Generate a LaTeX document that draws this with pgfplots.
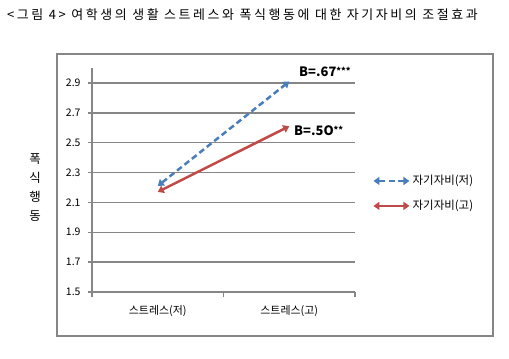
\documentclass[border=0pt]{standalone}
\usepackage{fontspec}
\setmainfont{Noto Sans CJK KR}
\newfontfamily\titlefont[LetterSpace=20]{Noto Sans CJK KR}
\usepackage{pgfplots}
\pgfplotsset{compat=1.18}
\usetikzlibrary{arrows.meta}
\definecolor{gridgray}{RGB}{134,134,134}
\definecolor{sblue}{RGB}{74,126,187}
\definecolor{sred}{RGB}{190,75,72}
\begin{document}
\begin{tikzpicture}[x=1bp,y=1bp]
\useasboundingbox (0,0) rectangle (509,358);
\draw[gridgray, line width=1.5bp] (57,22) rectangle (493,304);
\node[anchor=west, font=\titlefont\fontsize{13}{15}\selectfont, inner sep=0] at (7,343) {<그림 4> 여학생의 생활 스트레스와 폭식행동에 대한 자기자비의 조절효과};
\node[align=center, font=\fontsize{12.5}{19}\selectfont, inner sep=0] at (35,170.5) {폭\\식\\행\\동};
\begin{axis}[
  at={(92bp,66bp)}, anchor=south west, scale only axis,
  width=263bp, height=224bp,
  xmin=0.5, xmax=2.5, ymin=1.5, ymax=3.0,
  axis x line=bottom, axis y line=left,
  axis line style={-, gridgray, line width=1.5bp},
  ytick={1.5,1.7,1.9,2.1,2.3,2.5,2.7,2.9},
  xtick={1,2}, xticklabels={스트레스(저),스트레스(고)},
  minor xtick={0.5,1.5,2.5},
  tick align=outside,
  major tick length=4bp, minor tick length=5bp,
  tick style={gridgray, line width=1.5bp},
  major x tick style={draw=none},
  ymajorgrids, grid style={gridgray, line width=1.5bp},
  /pgf/number format/.cd, fixed, precision=1, fixed zerofill, assume math mode=true,
  /pgfplots/.cd,
  yticklabel style={font=\fontsize{10.5}{12}\selectfont, xshift=-4bp},
  xticklabel style={font=\fontsize{11}{13}\selectfont, yshift=-6bp},
  legend style={at={(1.0646,0.53)}, anchor=north west, draw=none, fill=none,
    font=\fontsize{11.5}{13}\selectfont, row sep=10bp, inner sep=0pt},
  legend cell align=left,
  legend image code/.code={\draw[#1] (0bp,0bp) -- (36bp,0bp);},
  clip=false,
]
\addplot[sblue, line width=2.5bp, dash pattern=on 6bp off 3.5bp,
  {Triangle[length=6bp,width=8bp]}-{Triangle[length=6bp,width=8bp]}]
  coordinates {(1,2.21) (2,2.91)};
\addlegendentry{자기자비(저)}
\addplot[sred, line width=2.5bp,
  {Triangle[length=6bp,width=8bp]}-{Triangle[length=6bp,width=8bp]}]
  coordinates {(1,2.17) (2,2.61)};
\addlegendentry{자기자비(고)}
\node[anchor=west, font=\bfseries\fontsize{13}{15}\selectfont, inner sep=0] at (axis cs:2.074,2.974) {B=.67\raisebox{2bp}{\fontsize{9}{9}\selectfont ***}};
\node[anchor=west, font=\bfseries\fontsize{13}{15}\selectfont, inner sep=0] at (axis cs:2.036,2.583) {B=.5O\raisebox{2bp}{\fontsize{9}{9}\selectfont **}};
\end{axis}
\end{tikzpicture}
\end{document}
